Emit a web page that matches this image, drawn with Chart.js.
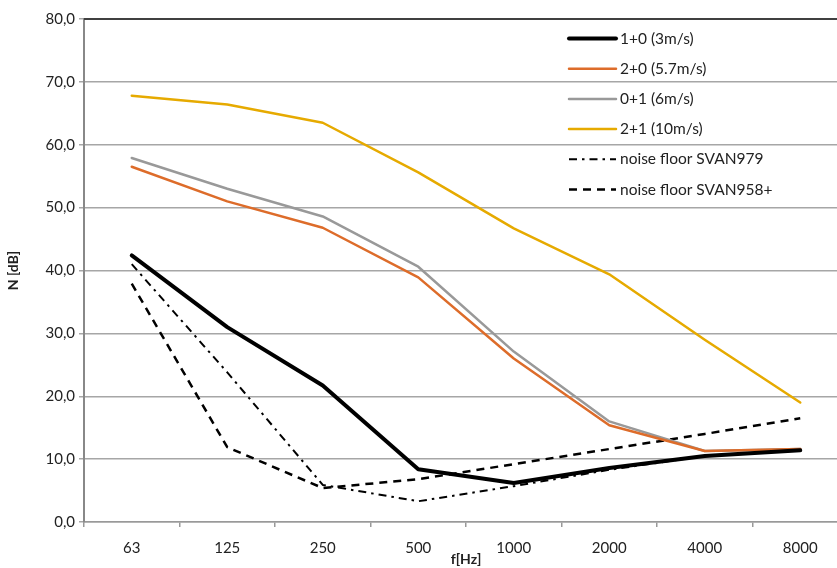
<!DOCTYPE html>
<html>
<head>
<meta charset="utf-8">
<script src="https://cdn.jsdelivr.net/npm/chart.js@4/dist/chart.umd.min.js"></script>
<style>
  html, body { margin: 0; padding: 0; overflow: hidden; background: #fff; }
  #wrap { width: 860px; height: 568px; }
</style>
</head>
<body>
<div id="wrap"><canvas id="noiseChart" width="860" height="568"></canvas></div>
<script>
// Frequency bands (x categories)
const freqLabels = ['63', '125', '250', '500', '1000', '2000', '4000', '8000'];

// Measured levels N [dB] per wind case
const wind3 = [42.4, 31.0, 21.7, 8.4, 6.2, 8.6, 10.5, 11.4];
const wind57 = [56.5, 51.0, 46.8, 38.9, 26.0, 15.4, 11.3, 11.6];
const wind6 = [57.9, 53.0, 48.6, 40.6, 27.1, 16.0, 11.3, 11.6];
const wind10 = [67.8, 66.4, 63.5, 55.6, 46.7, 39.4, 29.0, 19.0];

// Noise floors of the two meters
const svan979 = [41.0, 23.8, 5.9, 3.3, 5.7, 8.3, 10.5, 11.4];
const svan958 = [37.9, 11.9, 5.4, 6.8, 9.2, 11.6, 14.0, 16.5];

const seriesNames = ['1+0 (3m/s)', '2+0 (5.7m/s)', '0+1 (6m/s)', '2+1 (10m/s)',
                     'noise floor SVAN979', 'noise floor SVAN958+'];
const yTickValues = [0, 10, 20, 30, 40, 50, 60, 70, 80];

const FONT = 'Lato';
const ctx = document.getElementById('noiseChart').getContext('2d');

function lineSet(label, data, color, width, dash) {
    return {
        label: label,
        data: data,
        borderColor: color,
        backgroundColor: color,
        borderWidth: width,
        borderDash: dash || [],
        borderJoinStyle: 'round',
        borderCapStyle: dash ? 'butt' : 'round',
        pointRadius: 0,
        pointHoverRadius: 0,
        tension: 0,
        fill: false
    };
}

// Legend drawn inside the plot, transparent, like the original
const insideLegend = {
    id: 'insideLegend',
    afterDraw(chart) {
        const c = chart.ctx;
        const area = chart.chartArea;
        // dark top border of plot area
        c.save();
        c.strokeStyle = '#404040';
        c.lineWidth = 2;
        c.beginPath();
        c.moveTo(area.left, area.top);
        c.lineTo(area.right, area.top);
        c.stroke();

        const x0 = 569, x1 = 616, tx = 620;
        let y = 38.5;
        c.font = '15.5px "' + FONT + '"';
        c.textBaseline = 'middle';
        c.fillStyle = '#222';
        chart.data.datasets.forEach(ds => {
            c.strokeStyle = ds.borderColor;
            c.lineWidth = ds.borderWidth;
            c.setLineDash(ds.borderDash);
            c.lineCap = ds.borderDash.length ? 'butt' : 'round';
            c.beginPath();
            c.moveTo(x0, y);
            c.lineTo(x1, y);
            c.stroke();
            c.setLineDash([]);
            c.fillText(ds.label, tx, y);
            y += 30.2;
        });
        c.restore();
    }
};

const data = {
    labels: freqLabels,
    datasets: [
        lineSet(seriesNames[0], wind3, '#000000', 4),
        lineSet(seriesNames[1], wind57, '#DD6C2A', 2.5),
        lineSet(seriesNames[2], wind6, '#999999', 2.5),
        lineSet(seriesNames[3], wind10, '#E6AA00', 2.5),
        lineSet(seriesNames[4], svan979, '#000000', 2, [8, 5, 2.5, 5]),
        lineSet(seriesNames[5], svan958, '#000000', 2.5, [8, 6])
    ]
};

const options = {
    responsive: false,
    animation: false,
    layout: { padding: { top: 19, right: 12, bottom: 0, left: 0 } },
    plugins: {
        legend: { display: false },
        tooltip: { enabled: false }
    },
    scales: {
        x: {
            type: 'category',
            offset: true,
            afterFit(scale) { scale.height = 46; },
            grid: {
                offset: true,
                drawOnChartArea: false,
                drawTicks: true,
                tickLength: 5,
                color: '#999999',
                lineWidth: 1.5
            },
            border: { display: true, color: '#999999', width: 1.5 },
            ticks: {
                color: '#222',
                padding: 12,
                maxRotation: 0,
                font: { family: FONT, size: 15 }
            },
            title: {
                display: true,
                text: 'f[Hz]',
                color: '#222',
                padding: { top: 0, bottom: 0 },
                font: { family: FONT, size: 14, weight: 'bold' }
            }
        },
        y: {
            min: 0,
            max: 80,
            afterFit(scale) { scale.width = 84; },
            afterBuildTicks(scale) {
                scale.ticks = yTickValues.map(v => ({ value: v }));
            },
            grid: {
                color: '#A6A6A6',
                lineWidth: 1.5,
                drawTicks: true,
                tickLength: 5
            },
            border: { display: true, color: '#888888', width: 2 },
            ticks: {
                color: '#222',
                padding: 4,
                font: { family: FONT, size: 15 },
                callback: v => v.toFixed(1).replace('.', ',')
            },
            title: {
                display: true,
                text: 'N [dB]',
                color: '#222',
                padding: { top: 5, bottom: 0 },
                font: { family: FONT, size: 14, weight: 'bold' }
            }
        }
    }
};

new Chart(ctx, {
    type: 'line',
    data: data,
    options: options,
    plugins: [insideLegend]
});
</script>
</body>
</html>
